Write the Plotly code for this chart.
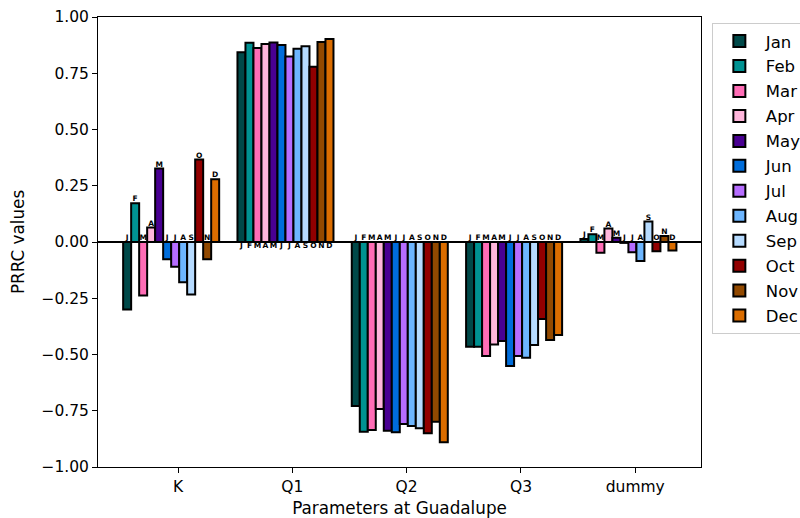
import plotly.graph_objects as go

params = ["K", "Q1", "Q2", "Q3", "dummy"]
months = ["Jan", "Feb", "Mar", "Apr", "May", "Jun", "Jul", "Aug", "Sep", "Oct", "Nov", "Dec"]
month_letters = ["J", "F", "M", "A", "M", "J", "J", "A", "S", "O", "N", "D"]
colors = ["#004949", "#009292", "#ff6db6", "#ffb6db", "#490092", "#006ddb",
          "#b66dff", "#6db6ff", "#b6dbff", "#920000", "#924900", "#db6d00"]

K_vals = [-0.30, 0.172, -0.238, 0.064, 0.327, -0.077, -0.110, -0.179, -0.233, 0.367, -0.077, 0.279]
Q1_vals = [0.843, 0.886, 0.862, 0.880, 0.887, 0.876, 0.824, 0.859, 0.870, 0.779, 0.889, 0.902]
Q2_vals = [-0.729, -0.843, -0.836, -0.742, -0.839, -0.846, -0.809, -0.818, -0.828, -0.850, -0.799, -0.890]
Q3_vals = [-0.465, -0.465, -0.507, -0.455, -0.440, -0.551, -0.507, -0.514, -0.458, -0.342, -0.436, -0.413]
dummy_vals = [0.013, 0.034, -0.048, 0.060, 0.019, -0.004, -0.046, -0.084, 0.091, -0.041, 0.027, -0.038]

all_vals = [K_vals, Q1_vals, Q2_vals, Q3_vals, dummy_vals]

bar_w = 0.07
start = -0.445

fig = go.Figure()
txt_x, txt_y, txt_t, txt_pos = [], [], [], []
for i, m in enumerate(months):
    xs = [g + start + i * bar_w for g in range(len(params))]
    ys = [vals[i] for vals in all_vals]
    fig.add_trace(go.Bar(
        x=xs, y=ys, width=bar_w, name=m, legendgroup=m,
        marker=dict(color=colors[i], line=dict(color="black", width=2)),
    ))
    for x, y in zip(xs, ys):
        txt_x.append(x)
        txt_t.append(month_letters[i])
        if y > 0.5:
            txt_y.append(0)
            txt_pos.append("bottom center")
        else:
            txt_y.append(max(y, 0))
            txt_pos.append("top center")

fig.add_trace(go.Scatter(
    x=txt_x, y=txt_y, text=txt_t, mode="text", textposition=txt_pos,
    textfont=dict(size=7.5, color="black", family="DejaVu Sans", weight="bold"),
    showlegend=False, hoverinfo="skip", cliponaxis=False,
))

fig.update_layout(
    width=800, height=518,
    margin=dict(l=98, r=99, t=17, b=51, autoexpand=False),
    paper_bgcolor="white", plot_bgcolor="white",
    font=dict(family="DejaVu Sans", size=14, color="black"),
    barmode="overlay",
    showlegend=True,
    legend=dict(
        x=1.018, y=0.987, xanchor="left", yanchor="top",
        bordercolor="#cccccc", borderwidth=1, bgcolor="white",
        font=dict(size=16.5), traceorder="grouped", tracegroupgap=0.5,
        itemwidth=43,
    ),
)
fig.update_xaxes(
    range=[-0.70, 4.575], tickvals=list(range(len(params))), ticktext=params,
    tickfont=dict(size=15.5),
    showline=True, mirror=True, linecolor="black", linewidth=1,
    ticks="outside", ticklen=5, tickcolor="black", showgrid=False, zeroline=False,
    title=dict(text="Parameters at Guadalupe", standoff=8, font=dict(size=16.8)),
)
fig.update_yaxes(
    range=[-1, 1], tickvals=[-1, -0.75, -0.5, -0.25, 0, 0.25, 0.5, 0.75, 1],
    tickformat=".2f", tickfont=dict(size=15.5),
    showline=True, mirror=True, linecolor="black", linewidth=1,
    ticks="outside", ticklen=5, tickcolor="black", showgrid=False,
    zeroline=True, zerolinecolor="black", zerolinewidth=2,
    title=dict(text="PRRC values", standoff=12, font=dict(size=16.8)),
)
fig.write_html("out.html")
